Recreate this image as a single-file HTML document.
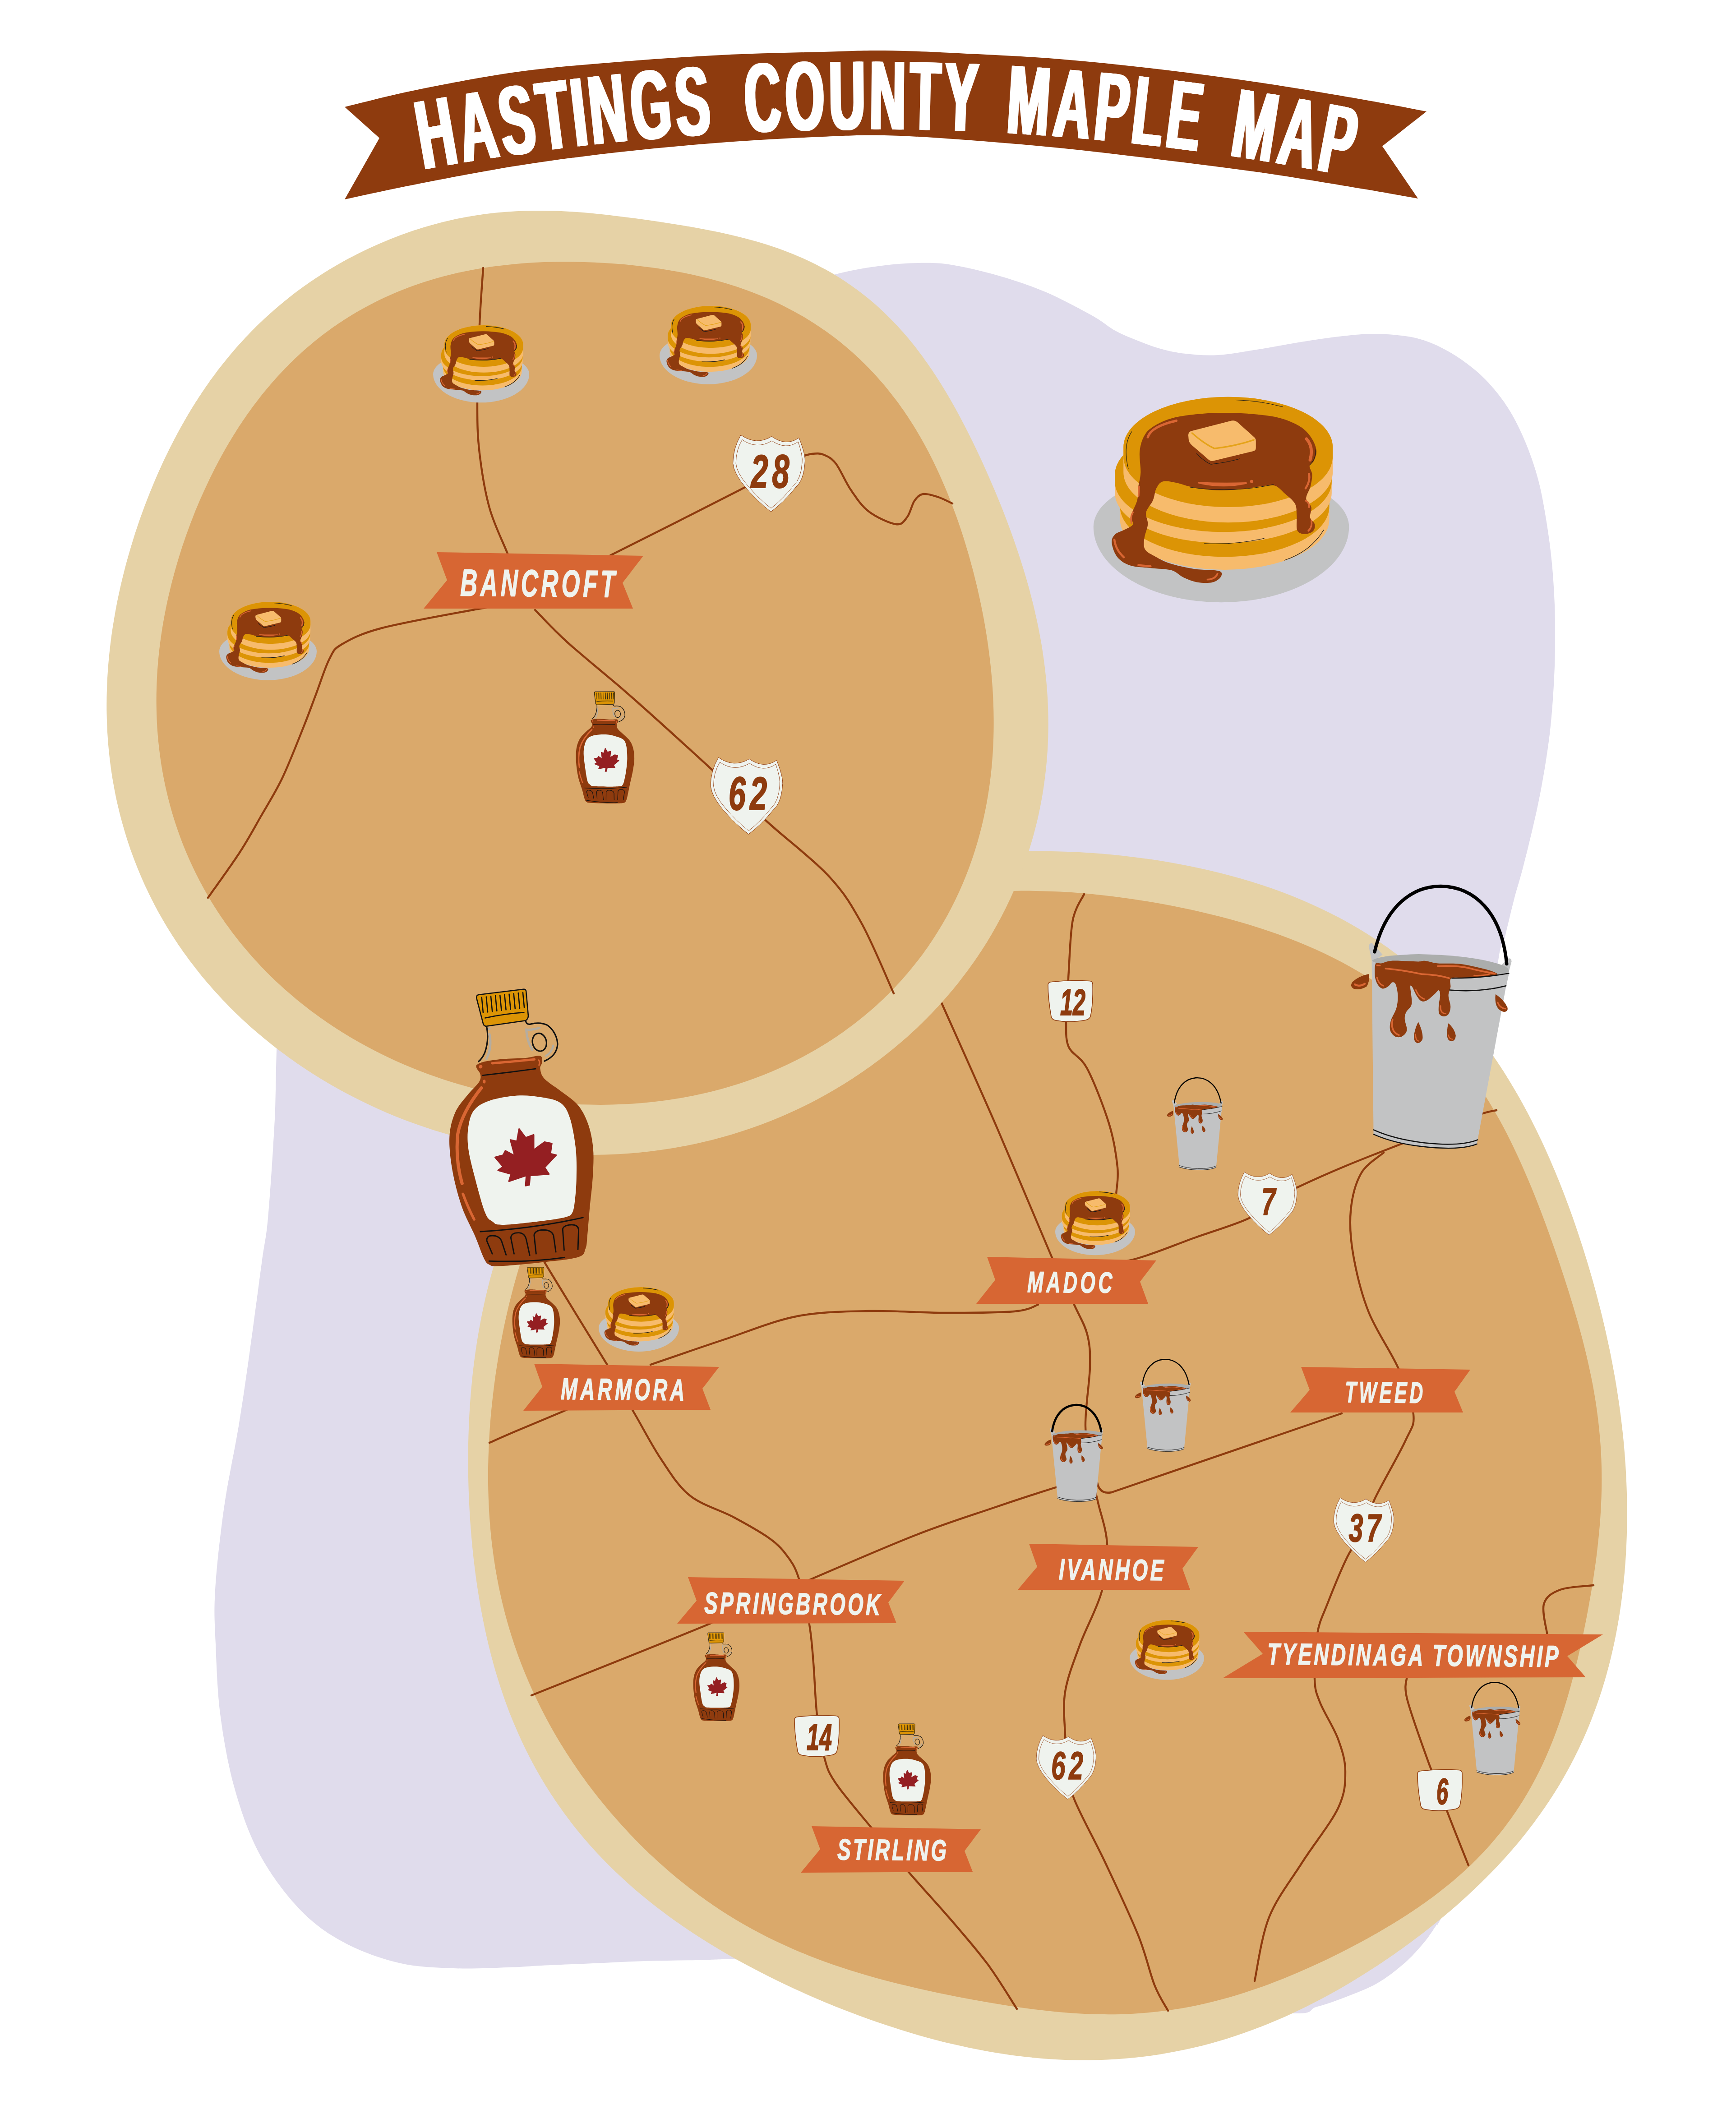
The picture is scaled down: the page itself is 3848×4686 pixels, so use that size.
<!DOCTYPE html>
<html><head><meta charset="utf-8"><title>Hastings County Maple Map</title>
<style>
html,body{margin:0;padding:0;background:#fff;}
body{width:3848px;height:4686px;overflow:hidden;}
svg{display:block;}
text{font-family:"Liberation Sans",sans-serif;font-weight:bold;}
.it{font-style:italic;}
</style></head><body>
<svg width="3848" height="4686" viewBox="0 0 3848 4686">
<rect width="3848" height="4686" fill="#fff"/>
<path d="M1860,606C1894,597.5 1924.5,592.8 1954,589C1983.5,585.2 2011.2,583.3 2037,583C2062.8,582.7 2079.7,582.3 2109,587C2138.3,591.7 2178.3,601 2213,611C2247.7,621 2282.5,632.3 2317,647C2351.5,661.7 2394.2,684.7 2420,699C2445.8,713.3 2454.7,723.5 2472,733C2489.3,742.5 2506.7,749.2 2524,756C2541.3,762.8 2558.7,769.3 2576,774C2593.3,778.7 2607.3,781.8 2628,784C2648.7,786.2 2672.7,788.7 2700,787C2727.3,785.3 2761.3,778.8 2792,774C2822.7,769.2 2853.3,762.8 2884,758C2914.7,753.2 2949,748 2976,745C3003,742 3022.8,740 3046,740C3069.2,740 3095.8,742.3 3115,745C3134.2,747.7 3145.7,750.7 3161,756C3176.3,761.3 3191.7,768.5 3207,777C3222.3,785.5 3237.7,795.2 3253,807C3268.3,818.8 3283.7,831.2 3299,848C3314.3,864.8 3331.2,885.7 3345,908C3358.8,930.3 3371.2,955.8 3382,982C3392.8,1008.2 3402.3,1035.8 3410,1065C3417.7,1094.2 3423,1126.3 3428,1157C3433,1187.7 3437,1218.3 3440,1249C3443,1279.7 3444.8,1312.5 3446,1341C3447.2,1369.5 3447,1397.5 3447,1420C3447,1442.5 3446.8,1454.2 3446,1476C3445.2,1497.8 3443.8,1525.8 3442,1551C3440.2,1576.2 3438,1601.7 3435,1627C3432,1652.3 3428.2,1677.7 3424,1703C3419.8,1728.3 3415.2,1753.8 3410,1779C3404.8,1804.2 3399,1828.8 3393,1854C3387,1879.2 3380,1907.3 3374,1930C3368,1952.7 3362.3,1969.8 3357,1990C3351.7,2010.2 3345.7,2035.8 3342,2051C3338.3,2066.2 3338.7,2066.2 3335,2081C3331.3,2095.8 3325.8,2086.8 3320,2140C3314.2,2193.2 3298.3,2290 3300,2400C3301.7,2510 3313.3,2650 3330,2800C3346.7,2950 3388.3,3150 3400,3300C3411.7,3450 3411.7,3583.3 3400,3700C3388.3,3816.7 3363.5,3909.3 3330,4000C3296.5,4090.7 3223.3,4199.5 3199,4244C3174.7,4288.5 3190.8,4257 3184,4267C3177.2,4277 3169.5,4290.2 3158,4304C3146.5,4317.8 3131.7,4335.2 3115,4350C3098.3,4364.8 3077.2,4381.3 3058,4393C3038.8,4404.7 3023,4410.8 3000,4420C2977,4429.2 2946.7,4441 2920,4448C2893.3,4455 2926.7,4466.7 2840,4462C2753.3,4457.3 2556.7,4437 2400,4420C2243.3,4403 2025,4372.7 1900,4360C1775,4347.3 1709,4346.5 1650,4344C1591,4341.5 1582.7,4344.5 1546,4345C1509.3,4345.5 1468.5,4345.8 1430,4347C1391.5,4348.2 1353.3,4350.3 1315,4352C1276.7,4353.7 1231.5,4355.5 1200,4357C1168.5,4358.5 1158.5,4360 1126,4361C1093.5,4362 1045.3,4364.7 1005,4363C964.7,4361.3 924.3,4360.5 884,4351C843.7,4341.5 799.3,4325.5 763,4306C726.7,4286.5 697,4266.2 666,4234C635,4201.8 601.2,4157.3 577,4113C552.8,4068.7 535.7,4019.2 521,3968C506.3,3916.8 496.2,3859.8 489,3806C481.8,3752.2 480,3692 478,3645C476,3598 473.8,3575 477,3524C480.2,3473 488.3,3399.5 497,3339C505.7,3278.5 519.7,3217.5 529,3161C538.3,3104.5 544.5,3060.2 553,3000C561.5,2939.8 573.2,2850 580,2800C586.8,2750 589.3,2750 594,2700C598.7,2650 605.2,2547.5 608,2500C610.8,2452.5 610.2,2443.7 611,2415C611.8,2386.3 611.8,2372.2 613,2328C614.2,2283.8 611.8,2221.3 618,2150C624.2,2078.7 603,2041.7 650,1900C697,1758.3 791.7,1466.7 900,1300C1008.3,1133.3 1183.3,996.7 1300,900C1416.7,803.3 1525,763.3 1600,720C1675,676.7 1706.7,659 1750,640C1793.3,621 1826,614.5 1860,606Z" fill="#E0DCEC"/>
<path d="M1043.3,3385.9C1041,3356 1039.4,3325.9 1038.5,3295.6C1037.6,3265.4 1037.4,3235 1037.9,3204.5C1038.5,3174 1039.7,3143.3 1041.8,3112.5C1044,3081.8 1046.8,3050.9 1050.8,3020C1054.7,2989.2 1059.5,2958.2 1065.5,2927.4C1071.4,2896.6 1078.3,2865.7 1086.4,2835.1C1094.5,2804.5 1103.7,2773.9 1114.1,2743.8C1124.5,2713.6 1136,2683.6 1148.7,2654.1C1161.3,2624.5 1175.2,2595.3 1190.1,2566.6C1205,2537.9 1221,2509.6 1238.1,2481.9C1255.1,2454.1 1273.3,2426.9 1292.4,2400.3C1311.6,2373.8 1331.7,2347.7 1352.9,2322.5C1374,2297.2 1396.1,2272.6 1419.1,2248.9C1442.2,2225.1 1466.2,2202.1 1491.1,2180.1C1515.9,2158.2 1541.8,2137 1568.5,2117.1C1595.1,2097.1 1622.8,2078.1 1651.1,2060.5C1679.4,2042.9 1708.7,2026.4 1738.5,2011.4C1768.3,1996.4 1798.9,1982.6 1829.9,1970.3C1861,1958.1 1892.7,1947.2 1924.7,1937.7C1956.7,1928.3 1989.2,1920.3 2021.8,1913.5C2054.4,1906.8 2087.3,1901.6 2120.2,1897.4C2153.1,1893.3 2186.2,1890.5 2219.2,1888.7C2252.2,1886.9 2285.2,1886.4 2318,1886.7C2350.9,1887 2383.7,1888.3 2416.3,1890.5C2448.9,1892.7 2481.4,1895.9 2513.7,1899.9C2546,1903.9 2578.1,1908.8 2610,1914.7C2641.9,1920.5 2673.6,1927.3 2704.9,1935.2C2736.2,1943.1 2767.3,1951.9 2797.8,1962.1C2828.4,1972.2 2858.6,1983.4 2888.1,1996C2917.6,2008.6 2946.7,2022.4 2974.8,2037.6C3002.9,2052.9 3030.4,2069.4 3056.7,2087.3C3083.1,2105.1 3108.6,2124.4 3132.9,2144.7C3157.2,2165.1 3180.5,2186.8 3202.4,2209.4C3224.4,2231.9 3245.3,2255.7 3264.8,2280.1C3284.4,2304.4 3302.8,2329.8 3320,2355.5C3337.2,2381.1 3353.2,2407.5 3368.2,2434C3383.2,2460.5 3397,2487.5 3410.1,2514.4C3423.1,2541.3 3435.1,2568.5 3446.4,2595.5C3457.8,2622.5 3468.2,2649.6 3478.1,2676.5C3488,2703.4 3497.1,2730.2 3505.7,2757C3514.4,2783.7 3522.4,2810.3 3529.9,2836.8C3537.4,2863.3 3544.3,2889.7 3550.8,2916C3557.2,2942.4 3563.1,2968.6 3568.5,2994.8C3573.8,3021 3578.7,3047.2 3583,3073.3C3587.2,3099.5 3591,3125.6 3594.1,3151.7C3597.3,3177.7 3599.9,3203.8 3601.8,3229.9C3603.8,3255.9 3605.2,3281.9 3605.9,3308C3606.7,3334 3606.9,3360 3606.3,3385.9C3605.8,3411.9 3604.7,3437.8 3602.8,3463.7C3600.9,3489.6 3598.4,3515.4 3595.1,3541.1C3591.8,3566.8 3587.8,3592.5 3582.9,3618C3578,3643.5 3572.4,3668.9 3565.8,3693.9C3559.2,3719 3551.8,3744 3543.4,3768.5C3535,3793.1 3525.7,3817.4 3515.4,3841.2C3505.2,3865 3493.9,3888.5 3481.8,3911.4C3469.7,3934.3 3456.6,3956.7 3442.8,3978.6C3428.9,4000.4 3414.1,4021.7 3398.6,4042.3C3383.2,4062.9 3366.9,4083 3350,4102.4C3333.2,4121.8 3315.6,4140.6 3297.6,4158.8C3279.6,4177 3261,4194.6 3242.1,4211.7C3223.1,4228.8 3203.7,4245.3 3184,4261.3C3164.2,4277.3 3144.1,4292.8 3123.7,4307.8C3103.3,4322.9 3082.5,4337.4 3061.4,4351.5C3040.4,4365.5 3019,4379.1 2997.2,4392.2C2975.5,4405.2 2953.4,4417.8 2931,4429.7C2908.6,4441.6 2885.8,4453 2862.7,4463.7C2839.6,4474.3 2816.1,4484.4 2792.3,4493.6C2768.5,4502.8 2744.3,4511.3 2719.9,4518.9C2695.4,4526.5 2670.7,4533.3 2645.7,4539.1C2620.7,4544.9 2595.4,4549.9 2570.1,4553.9C2544.7,4557.9 2519.1,4560.9 2493.5,4563.1C2467.8,4565.2 2442,4566.4 2416.3,4566.7C2390.6,4567 2364.7,4566.3 2339,4564.9C2313.3,4563.4 2287.6,4561.1 2262,4558C2236.4,4554.9 2210.9,4551 2185.5,4546.4C2160.1,4541.9 2134.8,4536.5 2109.6,4530.6C2084.4,4524.7 2059.4,4518 2034.4,4510.9C2009.5,4503.7 1984.7,4495.9 1960,4487.6C1935.2,4479.4 1910.6,4470.5 1886.1,4461.1C1861.5,4451.8 1837.1,4441.9 1812.7,4431.4C1788.3,4421 1764,4410.1 1739.7,4398.5C1715.5,4387 1691.3,4374.9 1667.2,4362.1C1643.2,4349.4 1619.2,4336.1 1595.5,4321.9C1571.7,4307.8 1548.1,4293 1524.9,4277.4C1501.7,4261.7 1478.6,4245.3 1456.2,4227.9C1433.8,4210.6 1411.6,4192.4 1390.4,4173.2C1369.1,4154 1348.2,4133.9 1328.4,4112.8C1308.6,4091.8 1289.5,4069.8 1271.5,4046.9C1253.5,4024 1236.4,4000.2 1220.5,3975.6C1204.6,3951.1 1189.8,3925.6 1176.2,3899.6C1162.6,3873.6 1150.1,3846.8 1138.8,3819.6C1127.4,3792.4 1117.3,3764.6 1108.2,3736.4C1099.1,3708.3 1091.1,3679.7 1084,3650.9C1076.9,3622.2 1070.9,3593 1065.6,3563.8C1060.3,3534.5 1055.9,3505 1052.2,3475.3C1048.5,3445.7 1045.6,3415.9 1043.3,3385.9Z" fill="#E6D2A6"/>
<path d="M1085.2,3366.6C1083.1,3337 1082.1,3307.3 1081.9,3277.5C1081.8,3247.8 1082.7,3217.9 1084.4,3188.1C1086,3158.2 1088.6,3128.3 1092,3098.4C1095.3,3068.5 1099.5,3038.6 1104.5,3008.7C1109.5,2978.8 1115.2,2948.9 1121.9,2919.1C1128.6,2889.3 1136,2859.5 1144.5,2829.9C1153,2800.4 1162.3,2770.8 1172.7,2741.6C1183.2,2712.4 1194.6,2683.4 1207.2,2654.8C1219.9,2626.3 1233.5,2598 1248.4,2570.4C1263.3,2542.8 1279.3,2515.6 1296.5,2489.2C1313.7,2462.8 1332.1,2436.9 1351.5,2412C1371,2387.1 1391.6,2362.9 1413.1,2339.7C1434.7,2316.5 1457.4,2294.2 1480.8,2272.9C1504.3,2251.6 1528.8,2231.2 1554,2211.9C1579.2,2192.7 1605.3,2174.4 1632,2157.3C1658.7,2140.2 1686.2,2124.2 1714.1,2109.4C1742.1,2094.6 1770.8,2080.8 1799.8,2068.4C1828.8,2056 1858.5,2044.7 1888.3,2034.7C1918.2,2024.8 1948.5,2016.1 1979,2008.6C2009.5,2001.2 2040.3,1995 2071.2,1990.1C2102,1985.1 2133,1981.5 2164,1978.9C2194.9,1976.4 2225.9,1975.1 2256.7,1974.7C2287.6,1974.3 2318.3,1975.1 2348.9,1976.6C2379.4,1978.2 2409.8,1980.7 2440,1984C2470.1,1987.2 2500.1,1991.2 2529.8,1995.9C2559.5,2000.5 2589,2005.9 2618.3,2012C2647.6,2018 2676.6,2024.6 2705.4,2032.1C2734.2,2039.6 2762.8,2047.7 2790.9,2056.8C2819.1,2065.9 2847.1,2075.7 2874.4,2086.7C2901.8,2097.7 2928.9,2109.6 2955.1,2122.9C2981.4,2136.1 3007.2,2150.4 3032,2166.1C3056.8,2181.7 3080.9,2198.6 3103.8,2216.7C3126.7,2234.9 3148.8,2254.3 3169.5,2274.8C3190.2,2295.2 3209.8,2317 3228.2,2339.4C3246.5,2361.8 3263.6,2385.3 3279.5,2409.2C3295.5,2433.1 3310.1,2457.9 3323.9,2482.6C3337.6,2507.4 3350.2,2532.8 3362,2557.9C3373.9,2583.1 3384.8,2608.5 3395.1,2633.6C3405.5,2658.8 3415.1,2683.9 3424.4,2708.8C3433.7,2733.7 3442.4,2758.4 3450.8,2782.9C3459.3,2807.5 3467.3,2831.8 3475,2856.2C3482.6,2880.5 3490,2904.6 3496.8,2928.8C3503.6,2953 3510,2977.1 3515.8,3001.4C3521.5,3025.6 3526.8,3049.8 3531.3,3074.1C3535.7,3098.5 3539.5,3122.9 3542.4,3147.3C3545.3,3171.7 3547.5,3196.2 3548.8,3220.6C3550.1,3245 3550.5,3269.5 3550.2,3293.8C3549.9,3318.1 3548.7,3342.4 3547.1,3366.6C3545.4,3390.7 3542.9,3414.7 3540.1,3438.7C3537.3,3462.6 3533.8,3486.4 3530.1,3510.1C3526.3,3533.8 3522.1,3557.4 3517.6,3580.9C3513.1,3604.5 3508.3,3627.9 3503,3651.4C3497.7,3674.8 3492.1,3698.3 3485.9,3721.6C3479.7,3744.9 3473.1,3768.3 3465.6,3791.4C3458.1,3814.5 3450.1,3837.6 3441.1,3860.2C3432,3882.9 3422.2,3905.5 3411.3,3927.4C3400.4,3949.3 3388.5,3970.9 3375.6,3991.7C3362.6,4012.5 3348.6,4032.9 3333.6,4052.3C3318.6,4071.7 3302.5,4090.4 3285.7,4108.2C3268.9,4126.1 3251,4143 3232.6,4159.2C3214.2,4175.4 3195,4190.6 3175.5,4205.2C3155.9,4219.8 3135.7,4233.5 3115.4,4246.7C3095,4259.9 3074.2,4272.4 3053.3,4284.4C3032.4,4296.5 3011.2,4307.9 2989.8,4318.9C2968.5,4330 2947,4340.6 2925.3,4350.7C2903.6,4360.8 2881.7,4370.6 2859.6,4379.7C2837.5,4388.8 2815.2,4397.6 2792.7,4405.6C2770.1,4413.5 2747.3,4421 2724.3,4427.6C2701.2,4434.1 2677.9,4440 2654.5,4445C2631,4449.9 2607.3,4454 2583.5,4457.1C2559.8,4460.2 2535.8,4462.4 2511.9,4463.7C2488,4465.1 2463.9,4465.4 2440,4465.1C2416,4464.7 2392.1,4463.5 2368.2,4461.7C2344.3,4460 2320.5,4457.4 2296.7,4454.6C2273,4451.7 2249.3,4448.2 2225.6,4444.5C2201.8,4440.8 2178.2,4436.7 2154.4,4432.3C2130.7,4427.9 2106.9,4423.2 2083,4418.2C2059.1,4413.2 2035.1,4407.9 2011.1,4402.1C1987,4396.3 1962.8,4390.2 1938.5,4383.4C1914.3,4376.6 1889.9,4369.4 1865.7,4361.3C1841.4,4353.2 1817,4344.6 1792.9,4334.9C1768.8,4325.3 1744.7,4314.9 1721,4303.6C1697.3,4292.2 1673.7,4279.9 1650.6,4266.7C1627.5,4253.5 1604.6,4239.3 1582.4,4224.2C1560.1,4209.1 1538.2,4193 1516.9,4176.1C1495.5,4159.2 1474.7,4141.4 1454.5,4122.8C1434.2,4104.2 1414.5,4084.7 1395.4,4064.5C1376.3,4044.3 1357.8,4023.3 1340,4001.6C1322.2,3980 1304.9,3957.5 1288.5,3934.4C1272.1,3911.3 1256.4,3887.4 1241.5,3863C1226.7,3838.5 1212.7,3813.3 1199.7,3787.6C1186.7,3761.9 1174.5,3735.4 1163.5,3708.6C1152.6,3681.7 1142.6,3654.2 1133.8,3626.4C1125,3598.5 1117.3,3570.2 1110.8,3541.5C1104.3,3512.9 1098.9,3483.9 1094.7,3454.7C1090.4,3425.6 1087.3,3396.1 1085.2,3366.6Z" fill="#DAA96B"/>
<path d="M2087,2223C2107.5,2269.2 2169.7,2407 2210,2500C2250.3,2593 2300.5,2715.7 2329,2781C2357.5,2846.3 2367.5,2862.5 2381,2892C2394.5,2921.5 2404.2,2935 2410,2958C2415.8,2981 2416.7,2996.2 2416,3030C2415.3,3063.8 2405.3,3121 2406,3161C2406.7,3201 2415.3,3241.7 2420,3270C2424.7,3298.3 2428.3,3305.5 2434,3331C2439.7,3356.5 2452.7,3390.2 2454,3423C2455.3,3455.8 2452,3491 2442,3528C2432,3565 2407.5,3608 2394,3645C2380.5,3682 2366.5,3716.3 2361,3750C2355.5,3783.7 2360.3,3819.5 2361,3847C2361.7,3874.5 2361.7,3891.5 2365,3915C2368.3,3938.5 2366.8,3952.3 2381,3988C2395.2,4023.7 2426.3,4078.7 2450,4129C2473.7,4179.3 2504.8,4244.8 2523,4290C2541.2,4335.2 2548,4372.2 2559,4400C2570,4427.8 2584,4447.5 2589,4457" fill="none" stroke="#8E3B0E" stroke-width="4.4" stroke-linecap="round" stroke-linejoin="round"/>
<path d="M2403,1982C2398.8,1991.5 2383.7,2010.7 2378,2039C2372.3,2067.3 2371,2121.8 2369,2152C2367,2182.2 2367,2201.2 2366,2220C2365,2238.8 2362.5,2248.2 2363,2265C2363.5,2281.8 2361.2,2303.7 2369,2321C2376.8,2338.3 2395.2,2340.8 2410,2369C2424.8,2397.2 2446.8,2453.7 2458,2490C2469.2,2526.3 2474.3,2560.7 2477,2587C2479.7,2613.3 2475.2,2629.2 2474,2648C2472.8,2666.8 2470.7,2691.3 2470,2700" fill="none" stroke="#8E3B0E" stroke-width="4.4" stroke-linecap="round" stroke-linejoin="round"/>
<path d="M2410,2800C2426.3,2798.8 2468,2802.5 2508,2793C2548,2783.5 2606.8,2758.3 2650,2743C2693.2,2727.7 2740.5,2713.7 2767,2701C2793.5,2688.3 2790.2,2678.8 2809,2667C2827.8,2655.2 2850.8,2643.8 2880,2630C2909.2,2616.2 2947.3,2599.3 2984,2584C3020.7,2568.7 3064,2552 3100,2538C3136,2524 3169.3,2511.5 3200,2500C3230.7,2488.5 3264.5,2475.5 3284,2469C3303.5,2462.5 3311.5,2462.3 3317,2461" fill="none" stroke="#8E3B0E" stroke-width="4.4" stroke-linecap="round" stroke-linejoin="round"/>
<path d="M3067,2555C3058.7,2562.7 3029.2,2579.5 3017,2601C3004.8,2622.5 2996.8,2653.5 2994,2684C2991.2,2714.5 2993.3,2746.5 3000,2784C3006.7,2821.5 3017.3,2867.3 3034,2909C3050.7,2950.7 3083.5,2996.3 3100,3034C3116.5,3071.7 3130.5,3108.3 3133,3135C3135.5,3161.7 3129.3,3162.7 3115,3194C3100.7,3225.3 3062.3,3290.2 3047,3323C3031.7,3355.8 3033.2,3369.5 3023,3391C3012.8,3412.5 2999.5,3424.5 2986,3452C2972.5,3479.5 2953,3527.8 2942,3556C2931,3584.2 2924.7,3593.3 2920,3621C2915.3,3648.7 2913,3696.5 2914,3722C2915,3747.5 2917.3,3751.8 2926,3774C2934.7,3796.2 2956.7,3829.5 2966,3855C2975.3,3880.5 2982,3901.5 2982,3927C2982,3952.5 2982,3974.3 2966,4008C2950,4041.7 2911.5,4088.7 2886,4129C2860.5,4169.3 2830.5,4206.3 2813,4250C2795.5,4293.7 2786.3,4367.5 2781,4391" fill="none" stroke="#8E3B0E" stroke-width="4.4" stroke-linecap="round" stroke-linejoin="round"/>
<path d="M1442,3025C1468.8,3015.8 1549.2,2987.8 1603,2970C1656.8,2952.2 1711.2,2928.7 1765,2918C1818.8,2907.3 1872.3,2907.3 1926,2906C1979.7,2904.7 2033.3,2909.8 2087,2910C2140.7,2910.2 2212.3,2910 2248,2907C2283.7,2904 2292.2,2894.5 2301,2892" fill="none" stroke="#8E3B0E" stroke-width="4.4" stroke-linecap="round" stroke-linejoin="round"/>
<path d="M1347,3027C1325.2,2991.3 1243.8,2859.2 1216,2813C1188.2,2766.8 1186,2760.5 1180,2750" fill="none" stroke="#8E3B0E" stroke-width="4.4" stroke-linecap="round" stroke-linejoin="round"/>
<path d="M1300,3105C1291.2,3109 1273.3,3117.7 1247,3129C1220.7,3140.3 1169,3161.5 1142,3173C1115,3184.5 1094.5,3193.8 1085,3198" fill="none" stroke="#8E3B0E" stroke-width="4.4" stroke-linecap="round" stroke-linejoin="round"/>
<path d="M1344,3028C1354,3044.8 1383.8,3094.7 1404,3129C1424.2,3163.3 1444.2,3203 1465,3234C1485.8,3265 1502.2,3293.5 1529,3315C1555.8,3336.5 1596.3,3347 1626,3363C1655.7,3379 1686.8,3396.2 1707,3411C1727.2,3425.8 1736.3,3437.2 1747,3452C1757.7,3466.8 1763.2,3475.2 1771,3500C1778.8,3524.8 1788.7,3570 1794,3601C1799.3,3632 1800.2,3652.5 1803,3686C1805.8,3719.5 1807,3767.2 1811,3802C1815,3836.8 1820.2,3870 1827,3895C1833.8,3920 1834.5,3925.8 1852,3952C1869.5,3978.2 1904.5,4018.5 1932,4052C1959.5,4085.5 1987.3,4118.7 2017,4153C2046.7,4187.3 2081.2,4224.3 2110,4258C2138.8,4291.7 2166,4322.5 2190,4355C2214,4387.5 2243.3,4436.7 2254,4453" fill="none" stroke="#8E3B0E" stroke-width="4.4" stroke-linecap="round" stroke-linejoin="round"/>
<path d="M1178,3758C1243.2,3731.8 1465.5,3644 1569,3601C1672.5,3558 1722.3,3533 1799,3500C1875.7,3467 1962.2,3429.2 2029,3403C2095.8,3376.8 2148.7,3360.5 2200,3343C2251.3,3325.5 2303.7,3308.5 2337,3298C2370.3,3287.5 2389.5,3283 2400,3280" fill="none" stroke="#8E3B0E" stroke-width="4.4" stroke-linecap="round" stroke-linejoin="round"/>
<path d="M2432,3286 Q2437,3313 2464,3308 L2974,3133" fill="none" stroke="#8E3B0E" stroke-width="4.4" stroke-linecap="round" stroke-linejoin="round"/>
<path d="M3119,3715C3119,3723.5 3110.8,3733.3 3119,3766C3127.2,3798.7 3155.8,3877.3 3168,3911C3180.2,3944.7 3185.3,3950.5 3192,3968C3198.7,3985.5 3197.5,3988.2 3208,4016C3218.5,4043.8 3247.2,4115.2 3255,4135" fill="none" stroke="#8E3B0E" stroke-width="4.4" stroke-linecap="round" stroke-linejoin="round"/>
<path d="M3532,3514C3519.7,3515.7 3476.3,3517 3458,3524C3439.7,3531 3426.7,3539.2 3422,3556C3417.3,3572.8 3428.7,3613.5 3430,3625" fill="none" stroke="#8E3B0E" stroke-width="4.4" stroke-linecap="round" stroke-linejoin="round"/>
<path d="M310.4,1149.8C317.8,1128.7 325.6,1108.1 333.8,1087.9C342,1067.7 350.5,1048 359.4,1028.7C368.3,1009.5 377.5,990.7 387.1,972.4C396.7,954 406.7,936.2 417,918.8C427.3,901.4 438,884.4 449.1,868C460.2,851.6 471.6,835.6 483.4,820.1C495.2,804.7 507.3,789.7 519.8,775.3C532.3,760.8 545.2,746.9 558.3,733.5C571.5,720.1 584.9,707.3 598.7,695C612.4,682.7 626.4,670.9 640.6,659.7C654.8,648.4 669.3,637.7 683.9,627.6C698.5,617.4 713.3,607.8 728.2,598.6C743.1,589.5 758.2,580.9 773.3,572.8C788.5,564.7 803.7,557 819,549.9C834.3,542.8 849.7,536.1 865.2,529.9C880.6,523.7 896.1,518 911.6,512.8C927.1,507.5 942.6,502.7 958.1,498.4C973.7,494.1 989.2,490.2 1004.8,486.8C1020.3,483.4 1035.8,480.5 1051.3,478C1066.8,475.5 1082.3,473.4 1097.7,471.8C1113.1,470.2 1128.5,469 1143.8,468.2C1159.1,467.3 1174.3,466.9 1189.5,466.9C1204.6,466.8 1219.7,467.1 1234.7,467.6C1249.7,468.2 1264.6,469.1 1279.4,470.1C1294.2,471.2 1309,472.6 1323.7,474C1338.4,475.5 1353.1,477.2 1367.7,478.9C1382.4,480.7 1397,482.6 1411.7,484.6C1426.4,486.6 1441.1,488.6 1456,490.8C1470.8,493 1485.7,495.3 1500.7,497.8C1515.8,500.2 1531,502.7 1546.3,505.5C1561.6,508.3 1577.1,511.3 1592.7,514.6C1608.3,517.9 1624.1,521.4 1639.9,525.4C1655.8,529.3 1671.8,533.6 1687.9,538.5C1703.9,543.4 1720,548.7 1736.1,554.7C1752.1,560.7 1768.2,567.2 1784,574.4C1799.9,581.7 1815.7,589.5 1831.1,598.1C1846.6,606.7 1861.9,616 1876.7,626C1891.6,636 1906.2,646.7 1920.3,658.1C1934.4,669.4 1948.1,681.5 1961.3,694.2C1974.5,706.9 1987.3,720.2 1999.6,734C2011.9,747.9 2023.7,762.3 2035.1,777.2C2046.4,792.1 2057.3,807.5 2067.9,823.2C2078.4,839 2088.6,855.2 2098.4,871.8C2108.3,888.4 2117.8,905.4 2127.1,922.7C2136.4,940 2145.4,957.7 2154.3,975.8C2163.2,993.9 2171.9,1012.3 2180.5,1031.2C2189,1050.1 2197.5,1069.4 2205.7,1089.1C2214,1108.9 2222.2,1129.1 2230.1,1149.8C2238,1170.6 2245.7,1191.8 2253.1,1213.7C2260.5,1235.5 2267.7,1257.9 2274.4,1280.8C2281,1303.8 2287.4,1327.4 2293,1351.5C2298.6,1375.6 2303.8,1400.3 2308.1,1425.5C2312.3,1450.7 2316,1476.4 2318.5,1502.6C2321.1,1528.7 2322.9,1555.4 2323.4,1582.3C2324,1609.2 2323.6,1636.5 2321.9,1663.9C2320.1,1691.3 2317.3,1719 2313.1,1746.6C2308.9,1774.2 2303.4,1802 2296.6,1829.5C2289.7,1857 2281.6,1884.5 2272.1,1911.6C2262.6,1938.6 2251.7,1965.5 2239.5,1991.8C2227.3,2018.1 2213.7,2044.1 2198.9,2069.4C2184.2,2094.7 2168,2119.5 2150.7,2143.4C2133.5,2167.4 2114.9,2190.7 2095.3,2213.2C2075.7,2235.6 2054.9,2257.3 2033.2,2277.9C2011.4,2298.6 1988.5,2318.4 1964.8,2337.1C1941.2,2355.8 1916.4,2373.5 1891,2390.1C1865.6,2406.7 1839.3,2422.2 1812.4,2436.5C1785.5,2450.9 1757.7,2464.1 1729.6,2476C1701.4,2487.9 1672.5,2498.6 1643.3,2508C1614.1,2517.5 1584.4,2525.7 1554.4,2532.5C1524.5,2539.4 1494.1,2545 1463.6,2549.3C1433.2,2553.6 1402.4,2556.5 1371.7,2558.2C1341,2560 1310.1,2560.3 1279.4,2559.5C1248.7,2558.6 1217.9,2556.5 1187.4,2553.2C1156.9,2549.8 1126.5,2545.2 1096.4,2539.5C1066.4,2533.7 1036.5,2526.8 1007.1,2518.7C977.7,2510.6 948.6,2501.4 920,2491.1C891.4,2480.8 863.2,2469.4 835.7,2456.9C808.1,2444.5 781.1,2431 754.7,2416.5C728.4,2402 702.6,2386.5 677.7,2370C652.7,2353.6 628.4,2336.1 605.1,2317.8C581.8,2299.4 559.2,2280.1 537.6,2260C516.1,2239.9 495.4,2218.8 475.9,2197C456.3,2175.3 437.7,2152.6 420.4,2129.3C403.1,2106.1 386.8,2082 371.8,2057.4C356.8,2032.9 343,2007.6 330.5,1982C318,1956.4 306.8,1930.2 296.8,1903.8C286.8,1877.5 278.2,1850.6 270.8,1823.8C263.3,1797 257.2,1769.8 252.3,1742.8C247.3,1715.9 243.7,1688.7 241,1661.9C238.4,1635.1 237,1608.3 236.5,1581.8C236,1555.4 236.6,1529.1 238,1503.3C239.4,1477.6 241.8,1452.1 244.8,1427.1C247.8,1402.1 251.7,1377.5 256.1,1353.4C260.5,1329.3 265.6,1305.7 271.2,1282.6C276.7,1259.5 282.9,1236.8 289.5,1214.7C296,1192.6 303,1171 310.4,1149.8Z" fill="#E6D2A6"/>
<path d="M388.2,1263.7C393.3,1245.4 398.8,1227.4 404.6,1209.7C410.5,1192.1 416.7,1174.8 423.2,1157.7C429.6,1140.7 436.4,1124 443.5,1107.6C450.6,1091.2 458,1075.2 465.7,1059.4C473.4,1043.6 481.3,1028.1 489.6,1013C497.9,997.8 506.5,983 515.4,968.4C524.3,953.9 533.5,939.7 543.1,925.8C552.6,912 562.5,898.4 572.7,885.2C582.9,872.1 593.5,859.2 604.3,846.8C615.2,834.4 626.4,822.3 637.9,810.7C649.4,799.1 661.2,787.8 673.3,777.1C685.5,766.3 697.9,755.9 710.6,746.1C723.3,736.2 736.3,726.7 749.5,717.8C762.7,708.8 776.2,700.3 789.8,692.3C803.5,684.3 817.4,676.8 831.4,669.7C845.4,662.7 859.6,656.1 873.9,650C888.2,643.9 902.7,638.2 917.2,633C931.8,627.8 946.4,623.1 961.1,618.8C975.8,614.4 990.6,610.5 1005.4,607C1020.1,603.5 1035,600.4 1049.8,597.7C1064.6,595 1079.5,592.6 1094.4,590.6C1109.2,588.5 1124.1,586.9 1139,585.4C1153.8,584 1168.7,583 1183.6,582.1C1198.5,581.3 1213.4,580.8 1228.3,580.5C1243.2,580.2 1258.1,580.2 1273.1,580.4C1288,580.6 1303,581 1318.1,581.7C1333.1,582.4 1348.2,583.3 1363.4,584.5C1378.6,585.6 1393.8,587 1409.1,588.7C1424.5,590.4 1439.9,592.3 1455.4,594.6C1470.9,596.9 1486.5,599.4 1502.2,602.3C1517.9,605.3 1533.7,608.5 1549.6,612.2C1565.4,615.9 1581.4,620 1597.3,624.6C1613.2,629.1 1629.3,634.1 1645.2,639.7C1661.2,645.3 1677.2,651.4 1693,658.1C1708.8,664.8 1724.7,672 1740.3,679.9C1755.9,687.8 1771.4,696.3 1786.6,705.4C1801.8,714.6 1816.8,724.4 1831.4,734.8C1846,745.2 1860.4,756.3 1874.3,768C1888.3,779.7 1901.8,792 1914.9,804.9C1928,817.8 1940.7,831.3 1952.9,845.4C1965,859.4 1976.7,874 1987.9,889.1C1999.1,904.2 2009.8,919.8 2020,935.8C2030.2,951.8 2039.9,968.3 2049.1,985.1C2058.4,1001.9 2067.1,1019.2 2075.4,1036.7C2083.8,1054.3 2091.6,1072.2 2099.1,1090.5C2106.6,1108.8 2113.7,1127.4 2120.4,1146.3C2127.2,1165.2 2133.5,1184.4 2139.5,1204C2145.5,1223.6 2151.2,1243.5 2156.5,1263.7C2161.8,1284 2166.8,1304.6 2171.3,1325.5C2175.8,1346.5 2180.1,1367.8 2183.8,1389.5C2187.4,1411.2 2190.8,1433.3 2193.5,1455.7C2196.2,1478.2 2198.5,1501 2200,1524.1C2201.5,1547.2 2202.5,1570.7 2202.6,1594.5C2202.8,1618.2 2202.2,1642.3 2200.7,1666.5C2199.2,1690.7 2196.9,1715.2 2193.5,1739.7C2190.1,1764.2 2185.8,1788.9 2180.3,1813.4C2174.8,1837.9 2168.3,1862.5 2160.6,1886.7C2152.9,1910.9 2144,1935.1 2134,1958.7C2123.9,1982.3 2112.7,2005.7 2100.3,2028.4C2087.8,2051.1 2074.2,2073.4 2059.4,2094.9C2044.7,2116.4 2028.8,2137.3 2011.8,2157.2C1994.9,2177.1 1976.8,2196.3 1957.8,2214.5C1938.9,2232.6 1918.8,2249.9 1898,2266.1C1877.3,2282.3 1855.6,2297.5 1833.3,2311.6C1811,2325.7 1787.8,2338.7 1764.2,2350.6C1740.7,2362.5 1716.4,2373.3 1691.9,2382.9C1667.3,2392.6 1642.2,2401.2 1616.9,2408.7C1591.7,2416.2 1566,2422.5 1540.2,2427.9C1514.5,2433.2 1488.4,2437.5 1462.4,2440.8C1436.4,2444.1 1410.2,2446.3 1384.1,2447.6C1358.1,2448.9 1331.9,2449.2 1305.9,2448.6C1280,2448 1254,2446.4 1228.3,2444C1202.5,2441.6 1176.9,2438.3 1151.6,2434.1C1126.2,2430 1101,2424.9 1076.2,2419.1C1051.3,2413.2 1026.7,2406.5 1002.5,2399C978.2,2391.5 954.3,2383.1 930.8,2374C907.3,2364.9 884.1,2355 861.5,2344.3C838.8,2333.6 816.6,2322.1 795,2309.8C773.3,2297.5 752.2,2284.5 731.7,2270.7C711.2,2257 691.2,2242.4 672,2227.2C652.8,2212 634.2,2196 616.4,2179.5C598.6,2162.9 581.5,2145.6 565.3,2127.7C549.1,2109.9 533.6,2091.4 519.1,2072.4C504.5,2053.4 490.8,2033.9 478.1,2013.9C465.3,1994 453.5,1973.5 442.6,1952.7C431.7,1932 421.8,1910.8 412.8,1889.5C403.8,1868.1 395.8,1846.4 388.7,1824.7C381.6,1803 375.5,1781 370.3,1759.1C365,1737.2 360.8,1715.1 357.3,1693.2C353.9,1671.3 351.4,1649.4 349.6,1627.7C347.8,1606 346.9,1584.3 346.7,1563C346.4,1541.6 347,1520.4 348.1,1499.6C349.2,1478.7 351.1,1458 353.4,1437.7C355.8,1417.4 358.8,1397.4 362.2,1377.7C365.6,1358.1 369.6,1338.7 373.9,1319.7C378.2,1300.7 383,1282.1 388.2,1263.7Z" fill="#DAA96B"/>
<path d="M1071,594C1069.7,614.8 1065.2,668.7 1063,719C1060.8,769.3 1058,848.3 1058,896C1058,943.7 1058.5,966.7 1063,1005C1067.5,1043.3 1074.7,1089 1085,1126C1095.3,1163 1114.2,1199.7 1125,1227C1135.8,1254.3 1145.8,1279.5 1150,1290" fill="none" stroke="#8E3B0E" stroke-width="4.4" stroke-linecap="round" stroke-linejoin="round"/>
<path d="M1186,1352C1198,1364 1222.3,1391.8 1258,1424C1293.7,1456.2 1346.5,1497.8 1400,1545C1453.5,1592.2 1529,1661 1579,1707C1629,1753 1657,1781.8 1700,1821C1743,1860.2 1802,1904.3 1837,1942C1872,1979.7 1886,2003.7 1910,2047C1934,2090.3 1969.2,2176.2 1981,2202" fill="none" stroke="#8E3B0E" stroke-width="4.4" stroke-linecap="round" stroke-linejoin="round"/>
<path d="M1100,1345C1091.3,1346.2 1090.2,1344.2 1048,1352C1005.8,1359.8 895.3,1379.3 847,1392C798.7,1404.7 777.5,1416.5 758,1428C738.5,1439.5 739.7,1442.3 730,1461C720.3,1479.7 709.5,1515 700,1540C690.5,1565 685.3,1580.3 673,1611C660.7,1641.7 641.8,1690.8 626,1724C610.2,1757.2 593.8,1782.3 578,1810C562.2,1837.7 550.5,1860 531,1890C511.5,1920 472.7,1973.3 461,1990" fill="none" stroke="#8E3B0E" stroke-width="4.4" stroke-linecap="round" stroke-linejoin="round"/>
<path d="M1353,1231C1400.8,1206.8 1582.2,1116.2 1640,1086C1697.8,1055.8 1690,1056 1700,1050" fill="none" stroke="#8E3B0E" stroke-width="4.4" stroke-linecap="round" stroke-linejoin="round"/>
<path d="M1770,1014C1775,1012.7 1790.7,1007 1800,1006C1809.3,1005 1817.2,1004.3 1826,1008C1834.8,1011.7 1843,1015 1853,1028C1863,1041 1873.8,1068.3 1886,1086C1898.2,1103.7 1909.3,1121.3 1926,1134C1942.7,1146.7 1971.8,1160 1986,1162C2000.2,1164 2004.2,1154.7 2011,1146C2017.8,1137.3 2021,1118.5 2027,1110C2033,1101.5 2038.2,1096.3 2047,1095C2055.8,1093.7 2069.3,1098.5 2080,1102C2090.7,1105.5 2105.8,1113.7 2111,1116" fill="none" stroke="#8E3B0E" stroke-width="4.4" stroke-linecap="round" stroke-linejoin="round"/>
<path d="M764,237C790.8,230.7 860.8,212 925,199C989.2,186 1074.2,169.3 1149,159C1223.8,148.7 1299,143.2 1374,137C1449,130.8 1524.2,125.7 1599,122C1673.8,118.3 1762.8,116.7 1823,115C1883.2,113.3 1909.7,111.5 1960,112C2010.3,112.5 2060.2,114.8 2125,118C2189.8,121.2 2274.2,125 2349,131C2423.8,137 2499,145.2 2574,154C2649,162.8 2724.2,172.8 2799,184C2873.8,195.2 2962.5,210.5 3023,221C3083.5,231.5 3138.8,242.7 3162,247L3064,324L3143,440C3123,436.5 3080.3,428.5 3023,419C2965.7,409.5 2873.8,393.8 2799,383C2724.2,372.2 2649,363.2 2574,354C2499,344.8 2423.8,335.5 2349,328C2274.2,320.5 2189.8,313.7 2125,309C2060.2,304.3 2010.3,301 1960,300C1909.7,299 1883.2,300.3 1823,303C1762.8,305.7 1673.8,310.3 1599,316C1524.2,321.7 1449,328.5 1374,337C1299,345.5 1223.8,355.2 1149,367C1074.2,378.8 989.2,395.5 925,408C860.8,420.5 790.8,436.3 764,442L841,306Z" fill="#8E3B0E"/>
<text font-size="218" fill="#fff" text-anchor="middle" transform="translate(978.9,368.8) rotate(-9.9) scale(0.5219,1)" x="-6.7" y="0">H</text>
<text font-size="218" fill="#fff" text-anchor="middle" transform="translate(978.9,368.8) rotate(-9.9) scale(0.5219,1)" x="0" y="0">H</text>
<text font-size="218" fill="#fff" text-anchor="middle" transform="translate(978.9,368.8) rotate(-9.9) scale(0.5219,1)" x="6.7" y="0">H</text>
<text font-size="218" fill="#fff" text-anchor="middle" transform="translate(1069,353.9) rotate(-8.9) scale(0.5219,1)" x="-6.7" y="0">A</text>
<text font-size="218" fill="#fff" text-anchor="middle" transform="translate(1069,353.9) rotate(-8.9) scale(0.5219,1)" x="0" y="0">A</text>
<text font-size="218" fill="#fff" text-anchor="middle" transform="translate(1069,353.9) rotate(-8.9) scale(0.5219,1)" x="6.7" y="0">A</text>
<text font-size="218" fill="#fff" text-anchor="middle" transform="translate(1155.8,341) rotate(-8) scale(0.5219,1)" x="-6.7" y="0">S</text>
<text font-size="218" fill="#fff" text-anchor="middle" transform="translate(1155.8,341) rotate(-8) scale(0.5219,1)" x="0" y="0">S</text>
<text font-size="218" fill="#fff" text-anchor="middle" transform="translate(1155.8,341) rotate(-8) scale(0.5219,1)" x="6.7" y="0">S</text>
<text font-size="218" fill="#fff" text-anchor="middle" transform="translate(1235.9,330.2) rotate(-7.2) scale(0.5219,1)" x="-6.7" y="0">T</text>
<text font-size="218" fill="#fff" text-anchor="middle" transform="translate(1235.9,330.2) rotate(-7.2) scale(0.5219,1)" x="0" y="0">T</text>
<text font-size="218" fill="#fff" text-anchor="middle" transform="translate(1235.9,330.2) rotate(-7.2) scale(0.5219,1)" x="6.7" y="0">T</text>
<text font-size="218" fill="#fff" text-anchor="middle" transform="translate(1291.7,323.4) rotate(-6.6) scale(0.5219,1)" x="-6.7" y="0">I</text>
<text font-size="218" fill="#fff" text-anchor="middle" transform="translate(1291.7,323.4) rotate(-6.6) scale(0.5219,1)" x="0" y="0">I</text>
<text font-size="218" fill="#fff" text-anchor="middle" transform="translate(1291.7,323.4) rotate(-6.6) scale(0.5219,1)" x="6.7" y="0">I</text>
<text font-size="218" fill="#fff" text-anchor="middle" transform="translate(1354.5,316.5) rotate(-6) scale(0.5219,1)" x="-6.7" y="0">N</text>
<text font-size="218" fill="#fff" text-anchor="middle" transform="translate(1354.5,316.5) rotate(-6) scale(0.5219,1)" x="0" y="0">N</text>
<text font-size="218" fill="#fff" text-anchor="middle" transform="translate(1354.5,316.5) rotate(-6) scale(0.5219,1)" x="6.7" y="0">N</text>
<text font-size="218" fill="#fff" text-anchor="middle" transform="translate(1448.9,307.4) rotate(-5) scale(0.5219,1)" x="-6.7" y="0">G</text>
<text font-size="218" fill="#fff" text-anchor="middle" transform="translate(1448.9,307.4) rotate(-5) scale(0.5219,1)" x="0" y="0">G</text>
<text font-size="218" fill="#fff" text-anchor="middle" transform="translate(1448.9,307.4) rotate(-5) scale(0.5219,1)" x="6.7" y="0">G</text>
<text font-size="218" fill="#fff" text-anchor="middle" transform="translate(1539.9,300.2) rotate(-4) scale(0.5219,1)" x="-6.7" y="0">S</text>
<text font-size="218" fill="#fff" text-anchor="middle" transform="translate(1539.9,300.2) rotate(-4) scale(0.5219,1)" x="0" y="0">S</text>
<text font-size="218" fill="#fff" text-anchor="middle" transform="translate(1539.9,300.2) rotate(-4) scale(0.5219,1)" x="6.7" y="0">S</text>
<text font-size="218" fill="#fff" text-anchor="middle" transform="translate(1693.4,291.6) rotate(-2.4) scale(0.5087,1)" x="-6.9" y="0">C</text>
<text font-size="218" fill="#fff" text-anchor="middle" transform="translate(1693.4,291.6) rotate(-2.4) scale(0.5087,1)" x="0" y="0">C</text>
<text font-size="218" fill="#fff" text-anchor="middle" transform="translate(1693.4,291.6) rotate(-2.4) scale(0.5087,1)" x="6.9" y="0">C</text>
<text font-size="218" fill="#fff" text-anchor="middle" transform="translate(1785.8,288.4) rotate(-1.5) scale(0.5087,1)" x="-6.9" y="0">O</text>
<text font-size="218" fill="#fff" text-anchor="middle" transform="translate(1785.8,288.4) rotate(-1.5) scale(0.5087,1)" x="0" y="0">O</text>
<text font-size="218" fill="#fff" text-anchor="middle" transform="translate(1785.8,288.4) rotate(-1.5) scale(0.5087,1)" x="6.9" y="0">O</text>
<text font-size="218" fill="#fff" text-anchor="middle" transform="translate(1878.2,286.9) rotate(-0.5) scale(0.5087,1)" x="-6.9" y="0">U</text>
<text font-size="218" fill="#fff" text-anchor="middle" transform="translate(1878.2,286.9) rotate(-0.5) scale(0.5087,1)" x="0" y="0">U</text>
<text font-size="218" fill="#fff" text-anchor="middle" transform="translate(1878.2,286.9) rotate(-0.5) scale(0.5087,1)" x="6.9" y="0">U</text>
<text font-size="218" fill="#fff" text-anchor="middle" transform="translate(1967.1,286.8) rotate(0.5) scale(0.5087,1)" x="-6.9" y="0">N</text>
<text font-size="218" fill="#fff" text-anchor="middle" transform="translate(1967.1,286.8) rotate(0.5) scale(0.5087,1)" x="0" y="0">N</text>
<text font-size="218" fill="#fff" text-anchor="middle" transform="translate(1967.1,286.8) rotate(0.5) scale(0.5087,1)" x="6.9" y="0">N</text>
<text font-size="218" fill="#fff" text-anchor="middle" transform="translate(2049.3,288.1) rotate(1.3) scale(0.5087,1)" x="-6.9" y="0">T</text>
<text font-size="218" fill="#fff" text-anchor="middle" transform="translate(2049.3,288.1) rotate(1.3) scale(0.5087,1)" x="0" y="0">T</text>
<text font-size="218" fill="#fff" text-anchor="middle" transform="translate(2049.3,288.1) rotate(1.3) scale(0.5087,1)" x="6.9" y="0">T</text>
<text font-size="218" fill="#fff" text-anchor="middle" transform="translate(2128,290.5) rotate(2.1) scale(0.5087,1)" x="-6.9" y="0">Y</text>
<text font-size="218" fill="#fff" text-anchor="middle" transform="translate(2128,290.5) rotate(2.1) scale(0.5087,1)" x="0" y="0">Y</text>
<text font-size="218" fill="#fff" text-anchor="middle" transform="translate(2128,290.5) rotate(2.1) scale(0.5087,1)" x="6.9" y="0">Y</text>
<text font-size="218" fill="#fff" text-anchor="middle" transform="translate(2275.8,298.1) rotate(3.7) scale(0.5144,1)" x="-6.8" y="0">M</text>
<text font-size="218" fill="#fff" text-anchor="middle" transform="translate(2275.8,298.1) rotate(3.7) scale(0.5144,1)" x="0" y="0">M</text>
<text font-size="218" fill="#fff" text-anchor="middle" transform="translate(2275.8,298.1) rotate(3.7) scale(0.5144,1)" x="6.8" y="0">M</text>
<text font-size="218" fill="#fff" text-anchor="middle" transform="translate(2372.4,305.2) rotate(4.7) scale(0.5144,1)" x="-6.8" y="0">A</text>
<text font-size="218" fill="#fff" text-anchor="middle" transform="translate(2372.4,305.2) rotate(4.7) scale(0.5144,1)" x="0" y="0">A</text>
<text font-size="218" fill="#fff" text-anchor="middle" transform="translate(2372.4,305.2) rotate(4.7) scale(0.5144,1)" x="6.8" y="0">A</text>
<text font-size="218" fill="#fff" text-anchor="middle" transform="translate(2458.6,313) rotate(5.6) scale(0.5144,1)" x="-6.8" y="0">P</text>
<text font-size="218" fill="#fff" text-anchor="middle" transform="translate(2458.6,313) rotate(5.6) scale(0.5144,1)" x="0" y="0">P</text>
<text font-size="218" fill="#fff" text-anchor="middle" transform="translate(2458.6,313) rotate(5.6) scale(0.5144,1)" x="6.8" y="0">P</text>
<text font-size="218" fill="#fff" text-anchor="middle" transform="translate(2537.8,321.3) rotate(6.4) scale(0.5144,1)" x="-6.8" y="0">L</text>
<text font-size="218" fill="#fff" text-anchor="middle" transform="translate(2537.8,321.3) rotate(6.4) scale(0.5144,1)" x="0" y="0">L</text>
<text font-size="218" fill="#fff" text-anchor="middle" transform="translate(2537.8,321.3) rotate(6.4) scale(0.5144,1)" x="6.8" y="0">L</text>
<text font-size="218" fill="#fff" text-anchor="middle" transform="translate(2616.8,330.8) rotate(7.3) scale(0.5144,1)" x="-6.8" y="0">E</text>
<text font-size="218" fill="#fff" text-anchor="middle" transform="translate(2616.8,330.8) rotate(7.3) scale(0.5144,1)" x="0" y="0">E</text>
<text font-size="218" fill="#fff" text-anchor="middle" transform="translate(2616.8,330.8) rotate(7.3) scale(0.5144,1)" x="6.8" y="0">E</text>
<text font-size="218" fill="#fff" text-anchor="middle" transform="translate(2770.8,352.6) rotate(8.9) scale(0.5185,1)" x="-6.8" y="0">M</text>
<text font-size="218" fill="#fff" text-anchor="middle" transform="translate(2770.8,352.6) rotate(8.9) scale(0.5185,1)" x="0" y="0">M</text>
<text font-size="218" fill="#fff" text-anchor="middle" transform="translate(2770.8,352.6) rotate(8.9) scale(0.5185,1)" x="6.8" y="0">M</text>
<text font-size="218" fill="#fff" text-anchor="middle" transform="translate(2867.1,368.5) rotate(9.8) scale(0.5185,1)" x="-6.8" y="0">A</text>
<text font-size="218" fill="#fff" text-anchor="middle" transform="translate(2867.1,368.5) rotate(9.8) scale(0.5185,1)" x="0" y="0">A</text>
<text font-size="218" fill="#fff" text-anchor="middle" transform="translate(2867.1,368.5) rotate(9.8) scale(0.5185,1)" x="6.8" y="0">A</text>
<text font-size="218" fill="#fff" text-anchor="middle" transform="translate(2952.9,384) rotate(10.7) scale(0.5185,1)" x="-6.8" y="0">P</text>
<text font-size="218" fill="#fff" text-anchor="middle" transform="translate(2952.9,384) rotate(10.7) scale(0.5185,1)" x="0" y="0">P</text>
<text font-size="218" fill="#fff" text-anchor="middle" transform="translate(2952.9,384) rotate(10.7) scale(0.5185,1)" x="6.8" y="0">P</text>
<defs><g id="pancake"><path d="M115,915 A745,330 0 0 1 1605,915 A745,440 0 0 1 115,915 Z" fill="#C2C3C4"/><path d="M270,760 A610,293 0 0 1 1490,760 L1490,872 A610,293 0 0 1 270,872 Z" fill="#F7BB6C"/><path d="M270,760 A610,293 0 0 1 1490,760 L1490,797 A610,293 0 0 1 270,797 Z" fill="#DC9405"/><path d="M240,610 A632,293 0 0 1 1504,610 L1504,717 A632,293 0 0 1 240,717 Z" fill="#F7BB6C"/><path d="M240,610 A632,293 0 0 1 1504,610 L1504,652 A632,293 0 0 1 240,652 Z" fill="#DC9405"/><path d="M290,450 A610,293 0 0 1 1510,450 L1510,597 A610,293 0 0 1 290,597 Z" fill="#F7BB6C"/><path d="M290,450 A610,293 0 0 1 1510,450 L1510,507 A610,293 0 0 1 290,507 Z" fill="#DC9405"/><path d="M600,275C641.7,265.8 700,259.2 750,255C800,250.8 850,249.5 900,250C950,250.5 1000,253 1050,258C1100,263 1155,268 1200,280C1245,292 1289.2,310.8 1320,330C1350.8,349.2 1369.2,371.7 1385,395C1400.8,418.3 1412.5,447.5 1415,470C1417.5,492.5 1406.7,515 1400,530C1393.3,545 1376.7,546.7 1375,560C1373.3,573.3 1389.2,590 1390,610C1390.8,630 1385.8,656.7 1380,680C1374.2,703.3 1354.2,730 1355,750C1355.8,770 1381.2,781.7 1385,800C1388.8,818.3 1374.7,843.3 1378,860C1381.3,876.7 1402.2,886.7 1405,900C1407.8,913.3 1405,930.5 1395,940C1385,949.5 1360.3,957.8 1345,957C1329.7,956.2 1310.5,952.8 1303,935C1295.5,917.2 1302.2,875.8 1300,850C1297.8,824.2 1301.7,801.7 1290,780C1278.3,758.3 1250,737.7 1230,720C1210,702.3 1195,680.7 1170,674C1145,667.3 1108.3,677 1080,680C1051.7,683 1038.3,688.3 1000,692C961.7,695.7 900,703.2 850,702C800,700.8 741.7,692.3 700,685C658.3,677.7 630,663.8 600,658C570,652.2 539.7,644.7 520,650C500.3,655.3 491.7,671.7 482,690C472.3,708.3 472,736.7 462,760C452,783.3 427,806.7 422,830C417,853.3 433.7,875 432,900C430.3,925 414.8,955.8 412,980C409.2,1004.2 405.3,1027.5 415,1045C424.7,1062.5 445.8,1071.2 470,1085C494.2,1098.8 521.7,1115.5 560,1128C598.3,1140.5 652.5,1152.7 700,1160C747.5,1167.3 818.7,1164.5 845,1172C871.3,1179.5 863.8,1194 858,1205C852.2,1216 833,1232.5 810,1238C787,1243.5 748.3,1242.7 720,1238C691.7,1233.3 665,1221.7 640,1210C615,1198.3 601.7,1177.2 570,1168C538.3,1158.8 490,1159.7 450,1155C410,1150.3 362.5,1150.5 330,1140C297.5,1129.5 273,1113.7 255,1092C237,1070.3 224.5,1032 222,1010C219.5,988 227,973.3 240,960C253,946.7 282.5,940 300,930C317.5,920 339.2,913.3 345,900C350.8,886.7 330.8,873.3 335,850C339.2,826.7 363.3,786.7 370,760C376.7,733.3 371.7,716.7 375,690C378.3,663.3 388.3,636.7 390,600C391.7,563.3 380,508.3 385,470C390,431.7 400.8,396.7 420,370C439.2,343.3 470,325.8 500,310C530,294.2 558.3,284.2 600,275Z" fill="#8E3B0E"/><path d="M432,392 Q450,330 598,296" fill="none" stroke="#D96633" stroke-linecap="round" stroke-width="14"/><path d="M1357,402 Q1400,450 1378,525" fill="none" stroke="#D96633" stroke-linecap="round" stroke-width="18"/><path d="M730,658 Q870,690 1005,660 Q870,665 730,658Z" fill="#D96633" stroke="#D96633" stroke-width="10" stroke-linejoin="round"/><circle cx="1037" cy="650" r="9" fill="#D96633"/><path d="M1372,605 Q1380,650 1352,690" fill="none" stroke="#D96633" stroke-linecap="round" stroke-width="12"/><path d="M381,680 L378,735" fill="none" stroke="#D96633" stroke-linecap="round" stroke-width="10"/><path d="M345,830 Q328,860 337,892" fill="none" stroke="#D96633" stroke-linecap="round" stroke-width="10"/><path d="M237,990 Q245,1050 292,1092" fill="none" stroke="#D96633" stroke-linecap="round" stroke-width="12"/><path d="M377,1138 L448,1145" fill="none" stroke="#D96633" stroke-linecap="round" stroke-width="12"/><path d="M780,1222 Q825,1220 838,1188" fill="none" stroke="#D96633" stroke-linecap="round" stroke-width="10"/><path d="M1386,880 Q1392,915 1368,938" fill="none" stroke="#D96633" stroke-linecap="round" stroke-width="10"/><path d="M1352,762 Q1375,775 1372,800" fill="none" stroke="#D96633" stroke-linecap="round" stroke-width="10"/><path d="M668,380 Q668,360 690,355 L920,296 Q940,292 955,305 L1052,392 Q1062,400 1062,415 L1062,455 Q1062,470 1045,474 L815,530 Q798,534 785,522 L690,440 Q672,425 670,405 Z" fill="#F7BB6C"/><path d="M690,368 Q760,430 820,458 Q940,445 1050,408" fill="none" stroke="#E5A31A" stroke-width="9" stroke-linecap="round"/><path d="M940,175 Q1090,180 1218,215" fill="none" stroke="#1a1a1a" stroke-width="1.1" vector-effect="non-scaling-stroke" stroke-linecap="round"/><path d="M338,360 Q285,440 318,575" fill="none" stroke="#1a1a1a" stroke-width="1.1" vector-effect="non-scaling-stroke" stroke-linecap="round"/><path d="M715,488 Q770,540 800,550 Q890,540 968,518" fill="none" stroke="#1a1a1a" stroke-width="1.1" vector-effect="non-scaling-stroke" stroke-linecap="round"/><path d="M680,684 Q920,720 1165,668" fill="none" stroke="#1a1a1a" stroke-width="1.1" vector-effect="non-scaling-stroke" stroke-linecap="round"/><path d="M762,1012 Q950,1020 1110,982" fill="none" stroke="#1a1a1a" stroke-width="1.1" vector-effect="non-scaling-stroke" stroke-linecap="round"/><path d="M1228,1110 Q1380,1060 1458,932" fill="none" stroke="#1a1a1a" stroke-width="1.1" vector-effect="non-scaling-stroke" stroke-linecap="round"/><path d="M1410,465 Q1412,520 1378,552" fill="none" stroke="#1a1a1a" stroke-width="1.1" vector-effect="non-scaling-stroke" stroke-linecap="round"/></g><g id="bottle"><path d="M430,355 Q450,450 418,540 Q400,580 375,600" fill="none" stroke="#111" stroke-width="10" stroke-linecap="round"/><path d="M700,320 Q705,345 730,343 Q800,325 850,350 Q915,400 920,480 Q915,560 830,597" fill="none" stroke="#111" stroke-width="10" stroke-linecap="round"/><ellipse cx="795" cy="467" rx="48" ry="62" transform="rotate(-12 795 467)" fill="none" stroke="#111" stroke-width="10"/><path d="M450,410 Q470,500 430,582" fill="none" stroke="#B5ADA0" stroke-linecap="round" stroke-width="16"/><circle cx="449" cy="374" r="9" fill="#B5ADA0"/><path d="M795,368 Q740,385 705,380 Q705,450 745,518" fill="none" stroke="#B5ADA0" stroke-linecap="round" stroke-width="16"/><path d="M890,490 Q880,540 840,560" fill="none" stroke="#B5ADA0" stroke-linecap="round" stroke-width="14"/><path d="M375,140 L685,102 Q700,100 703,115 L718,285 Q718,305 700,318 L430,357 Q415,358 408,342 L362,165 Q358,145 375,140 Z" fill="#DC9405" stroke="#111" stroke-width="8" stroke-linejoin="round"/><path d="M397,158 L407,263" stroke="#111" stroke-width="8" stroke-linecap="round"/><path d="M428.5,154.2 L438.5,259.2" stroke="#111" stroke-width="8" stroke-linecap="round"/><path d="M460,150.4 L470,255.4" stroke="#111" stroke-width="8" stroke-linecap="round"/><path d="M491.5,146.6 L501.5,251.6" stroke="#111" stroke-width="8" stroke-linecap="round"/><path d="M523,142.8 L533,247.8" stroke="#111" stroke-width="8" stroke-linecap="round"/><path d="M554.5,139 L564.5,244" stroke="#111" stroke-width="8" stroke-linecap="round"/><path d="M586,135.2 L596,240.2" stroke="#111" stroke-width="8" stroke-linecap="round"/><path d="M617.5,131.4 L627.5,236.4" stroke="#111" stroke-width="8" stroke-linecap="round"/><path d="M649,127.6 L659,232.6" stroke="#111" stroke-width="8" stroke-linecap="round"/><path d="M680.5,123.8 L690.5,228.8" stroke="#111" stroke-width="8" stroke-linecap="round"/><path d="M420,300 Q560,270 688,262" fill="none" stroke="#111" stroke-width="8" stroke-linecap="round"/><path d="M365,622C374.7,614.5 390.8,606.5 420,600C449.2,593.5 493.3,587.2 540,583C586.7,578.8 659.2,578.8 700,575C740.8,571.2 766.3,560.5 785,560C803.7,559.5 807.5,563.7 812,572C816.5,580.3 814,597 812,610C810,623 797,631.7 800,650C803,668.3 805,693.3 830,720C855,746.7 911.7,780 950,810C988.3,840 1030,863.3 1060,900C1090,936.7 1112.5,980 1130,1030C1147.5,1080 1159.7,1138.3 1165,1200C1170.3,1261.7 1165.8,1333.3 1162,1400C1158.2,1466.7 1148.2,1533.3 1142,1600C1135.8,1666.7 1130,1751.7 1125,1800C1120,1848.3 1122.8,1865.3 1112,1890C1101.2,1914.7 1112,1932.2 1060,1948C1008,1963.8 890,1974.7 800,1985C710,1995.3 578.3,2007.5 520,2010C461.7,2012.5 468,2009.2 450,2000C432,1990.8 428.7,1988.3 412,1955C395.3,1921.7 375.3,1859.2 350,1800C324.7,1740.8 285.8,1675 260,1600C234.2,1525 209.2,1430 195,1350C180.8,1270 171.7,1186.7 175,1120C178.3,1053.3 194.2,998.3 215,950C235.8,901.7 272.8,864.7 300,830C327.2,795.3 363.3,765.3 378,742C392.7,718.7 390.7,706.2 388,690C385.3,673.8 365.8,656.3 362,645C358.2,633.7 355.3,629.5 365,622Z" fill="#8E3B0E"/><path d="M640,835C698.3,830.8 750,836.7 800,845C850,853.3 905.8,860.8 940,885C974.2,909.2 987.5,937.5 1005,990C1022.5,1042.5 1037.5,1131.7 1045,1200C1052.5,1268.3 1050.8,1341.7 1050,1400C1049.2,1458.3 1044.7,1510 1040,1550C1035.3,1590 1032.8,1619.7 1022,1640C1011.2,1660.3 1012,1662 975,1672C938,1682 872.5,1691.2 800,1700C727.5,1708.8 595,1724.7 540,1725C485,1725.3 490,1716.2 470,1702C450,1687.8 440,1690.3 420,1640C400,1589.7 369.2,1473.3 350,1400C330.8,1326.7 312.5,1258.3 305,1200C297.5,1141.7 298.3,1094.2 305,1050C311.7,1005.8 320.8,965 345,935C369.2,905 400.8,886.7 450,870C499.2,853.3 581.7,839.2 640,835Z" fill="#EFF3EE"/><path d="M655,1065L700,1125L755,1105L755,1210L830,1155L880,1165L870,1235L910,1245L830,1330L860,1375L730,1385L725,1450L700,1455L705,1385L585,1425L600,1375L510,1350L545,1325L490,1260L545,1245L560,1215L625,1250L595,1140L640,1150Z" fill="#941F22" stroke="#941F22" stroke-width="10" stroke-linejoin="round"/><path d="M470,612 Q620,600 760,585" fill="none" stroke="#D96633" stroke-linecap="round" stroke-width="16"/><path d="M395,782 Q260,950 232,1100 Q215,1280 262,1440" fill="none" stroke="#D96633" stroke-linecap="round" stroke-width="22"/><path d="M268,1512 Q300,1600 345,1688" fill="none" stroke="#D96633" stroke-linecap="round" stroke-width="18"/><circle cx="390" cy="636" r="12" fill="#D96633"/><ellipse cx="415" cy="738" rx="9" ry="13" fill="#D96633"/><path d="M790,590 Q800,605 792,625" fill="none" stroke="#D96633" stroke-linecap="round" stroke-width="10"/><path d="M405,695 Q590,675 768,650" fill="none" stroke="#111" stroke-width="9" stroke-linecap="round"/><path d="M388,1772 Q760,1750 1095,1675" fill="none" stroke="#111" stroke-width="9" stroke-linecap="round"/><path d="M448,1975 Q720,1985 968,1950" fill="none" stroke="#111" stroke-width="9" stroke-linecap="round"/><path d="M470,1925 L432,1835 Q430,1800 470,1800 Q520,1800 535,1840 L565,1932" fill="none" stroke="#111" stroke-width="9" stroke-linecap="round"/><path d="M620,1925 L598,1815 Q600,1780 650,1780 Q695,1780 705,1830 L728,1935" fill="none" stroke="#111" stroke-width="9" stroke-linecap="round"/><path d="M772,1925 L758,1795 Q765,1762 820,1760 Q880,1760 892,1800 L908,1912" fill="none" stroke="#111" stroke-width="9" stroke-linecap="round"/><path d="M965,1900 L955,1755 Q960,1730 1010,1725 Q1062,1722 1065,1760 L1060,1895" fill="none" stroke="#111" stroke-width="9" stroke-linecap="round"/></g><g id="bucketbody"><path d="M240,545 Q245,520 265,522 L340,605 L265,660 Z" fill="#C2C3C4"/><path d="M1185,690 L1250,632 Q1270,630 1270,655 L1250,730 Z" fill="#C2C3C4"/><path d="M262,645 L275,1900 Q420,1965 620,1988 Q900,2020 1020,1970 L1255,700 Z" fill="#C2C3C4"/><path d="M263,650 Q300,610 600,602 Q1000,610 1200,680 Q1255,700 1250,730 Q1000,790 700,760 Q400,720 263,650 Z" fill="#ABADAC"/><path d="M838,776 Q1050,775 1252,738 L1232,832 Q1030,880 825,860 Z" fill="#C2C3C4"/><path d="M290,670C297.5,654.7 311.7,671.3 330,668C348.3,664.7 368.3,652.7 400,650C431.7,647.3 486.7,651.2 520,652C553.3,652.8 578.3,655.3 600,655C621.7,654.7 626.7,647.8 650,650C673.3,652.2 698.3,664.3 740,668C781.7,671.7 850,666.7 900,672C950,677.3 1001.7,691.2 1040,700C1078.3,708.8 1108.7,717 1130,725C1151.3,733 1173,742.2 1168,748C1163,753.8 1134.7,756 1100,760C1065.3,764 1003.7,769.5 960,772C916.3,774.5 859.7,763.7 838,775C816.3,786.3 833.8,819.2 830,840C826.2,860.8 815,876.7 815,900C815,923.3 830,957.5 830,980C830,1002.5 823.3,1023.3 815,1035C806.7,1046.7 791.2,1050.8 780,1050C768.8,1049.2 753.8,1043.3 748,1030C742.2,1016.7 743.8,991.7 745,970C746.2,948.3 755,918 755,900C755,882 751.7,863.7 745,862C738.3,860.3 729.2,877.8 715,890C700.8,902.2 675.8,926.7 660,935C644.2,943.3 632.5,945.8 620,940C607.5,934.2 595.8,916.7 585,900C574.2,883.3 562.5,850.3 555,840C547.5,829.7 540.8,818 540,838C539.2,858 555,929.7 550,960C545,990.3 518.3,1001.7 510,1020C501.7,1038.3 499.2,1048.3 500,1070C500.8,1091.7 518.3,1129.2 515,1150C511.7,1170.8 494.2,1187.5 480,1195C465.8,1202.5 444.2,1202.5 430,1195C415.8,1187.5 400,1169.2 395,1150C390,1130.8 392.5,1106.7 400,1080C407.5,1053.3 431.7,1020 440,990C448.3,960 450.8,928.3 450,900C449.2,871.7 441.7,835.8 435,820C428.3,804.2 419.2,802.5 410,805C400.8,807.5 391.7,827.5 380,835C368.3,842.5 352.5,852.5 340,850C327.5,847.5 314.2,835 305,820C295.8,805 287.5,785 285,760C282.5,735 282.5,685.3 290,670Z" fill="#8E3B0E"/><path d="M240,745 Q250,800 225,835 Q180,865 130,850 Q100,830 125,800 Q170,760 240,745 Z" fill="#8E3B0E"/><path d="M1155,890 Q1215,930 1240,985 Q1248,1015 1215,1018 Q1165,1005 1155,950 Q1150,915 1155,890 Z" fill="#8E3B0E"/><path d="M598,1090 Q635,1170 628,1215 Q615,1245 590,1243 Q565,1235 566,1190 Q575,1130 598,1090 Z" fill="#8E3B0E"/><path d="M815,1100 Q860,1140 868,1190 Q865,1228 835,1230 Q805,1225 805,1180 Q805,1130 815,1100 Z" fill="#8E3B0E"/><path d="M362,705 Q480,715 620,745 Q740,750 820,775" fill="none" stroke="#D96633" stroke-linecap="round" stroke-width="12"/><path d="M738,688 Q900,680 1000,712 Q1080,730 1150,742" fill="none" stroke="#D96633" stroke-linecap="round" stroke-width="12"/><path d="M1000,755 Q1060,758 1110,745" fill="none" stroke="#D96633" stroke-linecap="round" stroke-width="9"/><path d="M300,770 Q310,815 345,830" fill="none" stroke="#D96633" stroke-linecap="round" stroke-width="10"/><path d="M580,860 Q600,910 640,925" fill="none" stroke="#D96633" stroke-linecap="round" stroke-width="10"/><path d="M758,975 Q755,1030 795,1030" fill="none" stroke="#D96633" stroke-linecap="round" stroke-width="10"/><path d="M412,1075 Q395,1160 458,1185" fill="none" stroke="#D96633" stroke-linecap="round" stroke-width="12"/><path d="M140,820 Q170,840 212,815" fill="none" stroke="#D96633" stroke-linecap="round" stroke-width="14"/><path d="M1170,950 Q1185,990 1225,995" fill="none" stroke="#D96633" stroke-linecap="round" stroke-width="10"/><path d="M578,1180 Q578,1225 600,1228" fill="none" stroke="#D96633" stroke-linecap="round" stroke-width="8"/><path d="M815,1185 Q820,1215 845,1215" fill="none" stroke="#D96633" stroke-linecap="round" stroke-width="8"/><path d="M300,682 L322,684" fill="none" stroke="#D96633" stroke-linecap="round" stroke-width="10"/><path d="M840,775 Q1050,775 1250,740" fill="none" stroke="#111" stroke-width="8" stroke-linecap="round"/><path d="M825,860 Q1030,880 1230,830" fill="none" stroke="#111" stroke-width="8" stroke-linecap="round"/><path d="M275,1868 Q420,1935 640,1962 Q900,1990 1025,1940" fill="none" stroke="#111" stroke-width="8" stroke-linecap="round"/><path d="M275,1900 Q420,1965 620,1988 Q900,2020 1020,1970" fill="none" stroke="#111" stroke-width="8" stroke-linecap="round"/></g><path id="bhandle" d="M283,585 C360,250 560,112 760,112 C1000,115 1200,300 1235,672" fill="none" stroke="#000" stroke-linecap="round"/><g id="shield"><path d="M17.5,0 Q52,24 85.7,3.3 Q118,26 146.4,6.3 Q162,45 159.5,62 Q157,100 139.6,115.6 Q112,150 84.2,170.3 Q55,148 27.3,115.6 Q2,85 0,63 Q0,30 17.5,0 Z" fill="#EFF3EE" stroke="#8E3B0E" stroke-width="1"/><path d="M20.5,10.5 Q53,33 86.4,13 Q118,34 144.5,15 Q155.5,47 153.3,62 Q151,97 134.5,112 Q110,143 84.5,162.5 Q58,142 32.5,112 Q8.5,84 6.6,63 Q6.5,34 20.5,10.5 Z" fill="none" stroke="#8E3B0E" stroke-width="0.9"/></g><path id="sign" d="M2,10 Q2,4 10,3.5 Q50,-1 94,1.5 Q101,2 101,9 Q102,55 96,80 Q94,86 86,88 Q50,95 20,89 Q11,88 9,80 Q2,40 2,10 Z" fill="#EFF3EE" stroke="#8E3B0E" stroke-width="1.5"/></defs>
<g transform="translate(1624.6,964.2) scale(1.0000) rotate(0 84 86)">
<use href="#shield"/>
<text class="it" text-anchor="middle" transform="translate(84.5,116.4) scale(0.66,1)" x="3.8" y="0" font-size="104" fill="#8E3B0E" stroke="#8E3B0E" stroke-width="2" letter-spacing="13.6">28</text>
</g>
<g transform="translate(1575,1679) scale(1.0000) rotate(0 84 86)">
<use href="#shield"/>
<text class="it" text-anchor="middle" transform="translate(84.5,116.4) scale(0.66,1)" x="3.8" y="0" font-size="104" fill="#8E3B0E" stroke="#8E3B0E" stroke-width="2" letter-spacing="13.6">62</text>
</g>
<g transform="translate(2744,2598) scale(0.8200) rotate(0 84 86)">
<use href="#shield"/>
<text class="it" text-anchor="middle" transform="translate(84.5,116.4) scale(0.66,1)" x="-3" y="0" font-size="104" fill="#8E3B0E" stroke="#8E3B0E" stroke-width="2" letter-spacing="0">7</text>
</g>
<g transform="translate(2956,3320) scale(0.8375) rotate(0 84 86)">
<use href="#shield"/>
<text class="it" text-anchor="middle" transform="translate(84.5,116.4) scale(0.66,1)" x="3.8" y="0" font-size="104" fill="#8E3B0E" stroke="#8E3B0E" stroke-width="2" letter-spacing="13.6">37</text>
</g>
<g transform="translate(2297,3847) scale(0.8300) rotate(0 84 86)">
<use href="#shield"/>
<text class="it" text-anchor="middle" transform="translate(84.5,116.4) scale(0.66,1)" x="3.8" y="0" font-size="104" fill="#8E3B0E" stroke="#8E3B0E" stroke-width="2" letter-spacing="13.6">62</text>
</g>
<g transform="translate(2321,2173)">
<use href="#sign"/>
<text class="it" x="29" y="77" font-size="81" fill="#8E3B0E" stroke="#8E3B0E" stroke-width="2" textLength="56" lengthAdjust="spacingAndGlyphs">12</text>
</g>
<g transform="translate(1759,3802)">
<use href="#sign"/>
<text class="it" x="29" y="77" font-size="81" fill="#8E3B0E" stroke="#8E3B0E" stroke-width="2" textLength="56" lengthAdjust="spacingAndGlyphs">14</text>
</g>
<g transform="translate(3140,3922)">
<use href="#sign"/>
<text class="it" x="44" y="77" font-size="81" fill="#8E3B0E" stroke="#8E3B0E" stroke-width="2" textLength="26" lengthAdjust="spacingAndGlyphs">6</text>
</g>
<use href="#pancake" transform="translate(2380,820) scale(0.3802)" />
<use href="#pancake" transform="translate(943.6,698.6) scale(0.1430)" />
<use href="#pancake" transform="translate(1445.3,655.2) scale(0.1450)" />
<use href="#pancake" transform="translate(469.3,1311.2) scale(0.1450)" />
<use href="#pancake" transform="translate(2325.3,2621.3) scale(0.1188)" />
<use href="#pancake" transform="translate(1313.3,2834.2) scale(0.1195)" />
<use href="#pancake" transform="translate(2491.3,3573.6) scale(0.1107)" />
<use href="#bucketbody" transform="translate(2960,1930) scale(0.3075)"/>
<use href="#bhandle" transform="translate(2960,1930) scale(0.3075)" stroke-width="24"/>
<use href="#bucketbody" transform="translate(2576.9,2376.7) scale(0.1085) rotate(-5 760 1100)"/>
<use href="#bhandle" transform="translate(2576.9,2376.7) scale(0.1085) rotate(-5 760 1100)" stroke-width="22"/>
<use href="#bucketbody" transform="translate(2505.9,3000.7) scale(0.1085) rotate(-5 760 1100)"/>
<use href="#bhandle" transform="translate(2505.9,3000.7) scale(0.1085) rotate(-5 760 1100)" stroke-width="22"/>
<use href="#bucketbody" transform="translate(2304.9,3101.2) scale(0.1138) rotate(-5 760 1100)"/>
<use href="#bhandle" transform="translate(2304.9,3101.2) scale(0.1138) rotate(-5 760 1100)" stroke-width="42"/>
<use href="#bucketbody" transform="translate(3235.8,3716.7) scale(0.1091) rotate(-5 760 1100)"/>
<use href="#bhandle" transform="translate(3235.8,3716.7) scale(0.1091) rotate(-5 760 1100)" stroke-width="22"/>
<use href="#bottle" transform="translate(940,2160) scale(0.3217)" />
<use href="#bottle" transform="translate(1255.5,1518.5) scale(0.1316) rotate(6.8 670 1050)"/>
<use href="#bottle" transform="translate(1118.5,2797.2) scale(0.1072) rotate(6.8 670 1050)"/>
<use href="#bottle" transform="translate(1520,3607.6) scale(0.1040) rotate(6.8 670 1050)"/>
<use href="#bottle" transform="translate(1940.4,3809.1) scale(0.1077) rotate(6.8 670 1050)"/>
<path d="M968,1224L1426,1232L1380,1292L1403,1349L939,1349L991,1286Z" fill="#D76633"/>
<text class="it" font-size="84.3" fill="#EFF3EE" stroke="#EFF3EE" stroke-width="1.6" stroke-linejoin="round" letter-spacing="11" transform="rotate(0.5 1191.5 1322) translate(1020,1322) scale(0.6237,1)">BANCROFT</text>
<path d="M2188,2786L2563,2794L2527,2841L2545,2890L2164,2890L2206,2837Z" fill="#D76633"/>
<text class="it" font-size="65.4" fill="#EFF3EE" stroke="#EFF3EE" stroke-width="1.6" stroke-linejoin="round" letter-spacing="10.1" transform="rotate(0.5 2371 2865) translate(2277,2865) scale(0.6544,1)">MADOC</text>
<path d="M1184,3023L1594,3030L1557,3078L1575,3125L1160,3127L1202,3074Z" fill="#D76633"/>
<text class="it" font-size="66.9" fill="#EFF3EE" stroke="#EFF3EE" stroke-width="1.6" stroke-linejoin="round" letter-spacing="9.7" transform="rotate(0.5 1380 3103) translate(1243,3103) scale(0.6609,1)">MARMORA</text>
<path d="M2884,3030L3259,3036L3224,3085L3243,3131L2860,3131L2903,3081Z" fill="#D76633"/>
<text class="it" font-size="65.4" fill="#EFF3EE" stroke="#EFF3EE" stroke-width="1.6" stroke-linejoin="round" letter-spacing="9.6" transform="rotate(0.5 3067.5 3109) translate(2981,3109) scale(0.6300,1)">TWEED</text>
<path d="M2281,3422L2656,3429L2621,3477L2638,3524L2256,3524L2299,3473Z" fill="#D76633"/>
<text class="it" font-size="65.4" fill="#EFF3EE" stroke="#EFF3EE" stroke-width="1.6" stroke-linejoin="round" letter-spacing="8" transform="rotate(0.5 2463 3502) translate(2347,3502) scale(0.6806,1)">IVANHOE</text>
<path d="M1525,3496L2005,3504L1969,3552L1987,3598L1501,3599L1544,3548Z" fill="#D76633"/>
<text class="it" font-size="66.9" fill="#EFF3EE" stroke="#EFF3EE" stroke-width="1.6" stroke-linejoin="round" letter-spacing="8.2" transform="rotate(0.5 1756 3578) translate(1561,3578) scale(0.6639,1)">SPRINGBROOK</text>
<path d="M1799,4048L2174,4055L2138,4103L2156,4149L1775,4151L1818,4099Z" fill="#D76633"/>
<text class="it" font-size="65.4" fill="#EFF3EE" stroke="#EFF3EE" stroke-width="1.6" stroke-linejoin="round" letter-spacing="7.1" transform="rotate(0.5 1977 4123) translate(1856,4123) scale(0.6819,1)">STIRLING</text>
<path d="M2756,3617L3553,3623L3474,3671L3515,3718L2710,3720L2799,3666Z" fill="#D76633"/>
<text class="it" font-size="66.9" fill="#EFF3EE" stroke="#EFF3EE" stroke-width="1.6" stroke-linejoin="round" letter-spacing="7.4" transform="rotate(0.5 3131.5 3692) translate(2809,3692) scale(0.6788,1)">TYENDINAGA TOWNSHIP</text>
</svg>
</body></html>
